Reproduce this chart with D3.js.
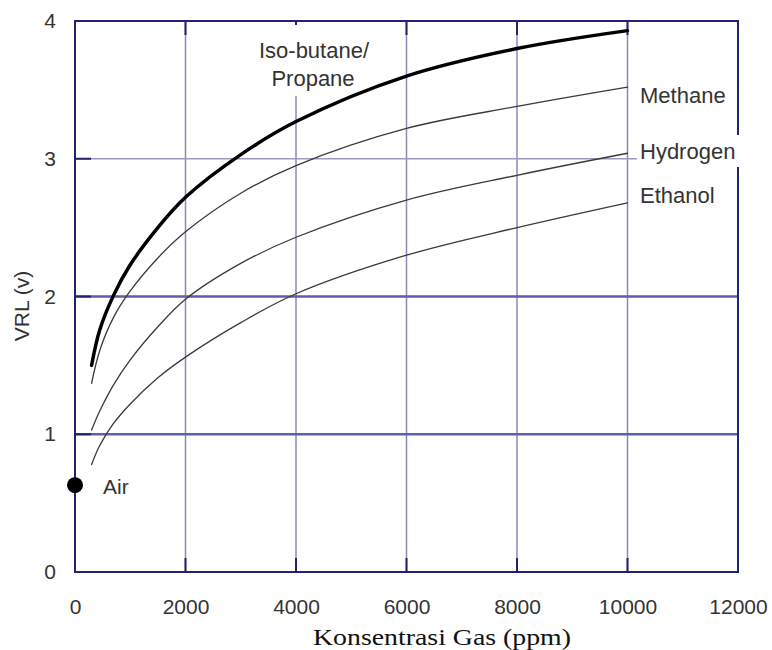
<!DOCTYPE html>
<html>
<head>
<meta charset="utf-8" />
<title>VRL vs Konsentrasi Gas</title>
<style>
  body { margin: 0; background: #fff; }
  text { font-family: "Liberation Sans", Arial, sans-serif; }
</style>
</head>
<body>
<script src="https://d3js.org/d3.v7.min.js"></script>
<script>

  // values (ppm -> VRL volts)
  var ppm = [300, 450, 700, 1000, 1500, 2000, 3000, 4000, 6000, 8000, 10000];
  var isoButane = [1.50, 1.76, 2.01, 2.23, 2.50, 2.72, 3.03, 3.27, 3.60, 3.80, 3.93];
  var methane   = [1.37, 1.61, 1.85, 2.04, 2.28, 2.47, 2.75, 2.95, 3.22, 3.38, 3.52];
  var hydrogen  = [1.03, 1.17, 1.36, 1.54, 1.78, 1.98, 2.24, 2.43, 2.70, 2.88, 3.04];
  var ethanol   = [0.78, 0.92, 1.08, 1.22, 1.41, 1.56, 1.81, 2.02, 2.30, 2.50, 2.68];
  var air = [0, 0.63];

  var xTicks = [0, 2000, 4000, 6000, 8000, 10000, 12000];
  var yTicks = [0, 1, 2, 3, 4];

  var width = 772, height = 650;
  var margin = {left: 75, right: 34, top: 21, bottom: 78};

  var svg = d3.select("body").append("svg")
      .attr("width", width)
      .attr("height", height);

  svg.append("rect").attr("width", width).attr("height", height).attr("fill", "#fff");

  var x = d3.scaleLinear().domain([0, 12000]).range([margin.left, width - margin.right]);
  var y = d3.scaleLinear().domain([0, 4]).range([height - margin.bottom, margin.top]);

  var navy = "#22226e";

  // grid
  svg.append("g").selectAll("line")
     .data(xTicks.filter(d => d > 0 && d < 12000))
     .enter().append("line")
     .attr("x1", d => x(d)).attr("x2", d => x(d))
     .attr("y1", y(0)).attr("y2", y(4))
     .attr("stroke", "#8a8ab8").attr("stroke-width", 1.5);

  svg.append("g").selectAll("line")
     .data(yTicks.filter(d => d > 0 && d < 4))
     .enter().append("line")
     .attr("x1", x(0)).attr("x2", x(12000))
     .attr("y1", d => y(d)).attr("y2", d => y(d))
     .attr("stroke", d => d == 3 ? "#9a9ac0" : "#5e5eaa")
     .attr("stroke-width", d => d == 3 ? 1.5 : 2.5);

  // frame
  svg.append("rect")
     .attr("x", x(0)).attr("y", y(4))
     .attr("width", x(12000) - x(0)).attr("height", y(0) - y(4))
     .attr("fill", "none").attr("stroke", navy).attr("stroke-width", 2);

  // short inside ticks
  var tk = svg.append("g").attr("stroke", navy).attr("stroke-width", 2);
  tk.selectAll(".tt").data(xTicks.filter(d => d > 0 && d < 12000)).enter().append("line")
    .attr("x1", d => x(d)).attr("x2", d => x(d)).attr("y1", y(4)).attr("y2", y(4) + 14);
  tk.selectAll(".tb").data(xTicks.filter(d => d > 0 && d < 12000)).enter().append("line")
    .attr("x1", d => x(d)).attr("x2", d => x(d)).attr("y1", y(0)).attr("y2", y(0) - 14);
  tk.selectAll(".tl").data(yTicks.filter(d => d > 0 && d < 4)).enter().append("line")
    .attr("x1", x(0)).attr("x2", x(0) + 16).attr("y1", d => y(d)).attr("y2", d => y(d));

  // axes labels
  var xAxis = d3.axisBottom(x).tickValues(xTicks).tickSize(0).tickPadding(27).tickFormat(d3.format("d"));
  var yAxis = d3.axisLeft(y).tickValues(yTicks).tickSize(0).tickPadding(19).tickFormat(d3.format("d"));

  var gx = svg.append("g").attr("transform", "translate(0," + y(0) + ")").call(xAxis);
  var gy = svg.append("g").attr("transform", "translate(" + x(0) + ",0)").call(yAxis);
  [gx, gy].forEach(function(g) {
    g.select(".domain").remove();
    g.selectAll("text")
     .style("font-family", "'Liberation Sans', Arial, sans-serif")
     .style("font-size", "21px")
     .attr("fill", "#333");
  });

  svg.append("text")
     .attr("transform", "translate(29," + 306 + ") rotate(-90)")
     .attr("text-anchor", "middle")
     .attr("fill", "#333")
     .style("font-size", "21px")
     .text("VRL (v)");

  svg.append("text")
     .attr("x", 442).attr("y", 645)
     .attr("text-anchor", "middle")
     .attr("textLength", 258).attr("lengthAdjust", "spacingAndGlyphs")
     .style("font-family", "'Liberation Serif', 'Times New Roman', serif")
     .style("font-size", "23px")
     .attr("fill", "#111")
     .text("Konsentrasi Gas (ppm)");

  // white label boxes (hide grid / frame behind labels)
  var boxes = [
    [252, 25, 124, 37],
    [268, 62, 90, 34],
    [637, 135, 106, 32]
  ];
  svg.append("g").selectAll("rect").data(boxes).enter().append("rect")
     .attr("x", d => d[0]).attr("y", d => d[1]).attr("width", d => d[2]).attr("height", d => d[3])
     .attr("fill", "#fff");

  // curves
  var series = [
    {name: "Ethanol", v: ethanol, w: 1.3, c: "#3a3a3a"},
    {name: "Hydrogen", v: hydrogen, w: 1.3, c: "#3a3a3a"},
    {name: "Methane", v: methane, w: 1.3, c: "#3a3a3a"},
    {name: "Iso-butane", v: isoButane, w: 3.5, c: "#000"}
  ];
  var line = d3.line()
     .x(d => x(d[0])).y(d => y(d[1]))
     .curve(d3.curveCatmullRom.alpha(0.5));

  svg.append("g").selectAll("path").data(series).enter().append("path")
     .attr("d", s => line(ppm.map((p, i) => [p, s.v[i]])))
     .attr("fill", "none")
     .attr("stroke", s => s.c)
     .attr("stroke-width", s => s.w)
     .attr("stroke-linecap", "round");

  // curve labels
  var lab = svg.append("g").attr("fill", "#333").style("font-size", "22px");
  lab.append("text").attr("x", 314).attr("y", 58).attr("text-anchor", "middle").text("Iso-butane/");
  lab.append("text").attr("x", 313).attr("y", 86).attr("text-anchor", "middle").text("Propane");
  lab.append("text").attr("x", 640).attr("y", 103).text("Methane");
  lab.append("text").attr("x", 640).attr("y", 159).text("Hydrogen");
  lab.append("text").attr("x", 640).attr("y", 203).text("Ethanol");

  // air point
  svg.append("circle")
     .attr("cx", x(air[0])).attr("cy", y(air[1]))
     .attr("r", 8).attr("fill", "#000");
  svg.append("text")
     .attr("x", 103).attr("y", 494)
     .attr("fill", "#333")
     .style("font-size", "21px")
     .text("Air");

</script>
</body>
</html>
